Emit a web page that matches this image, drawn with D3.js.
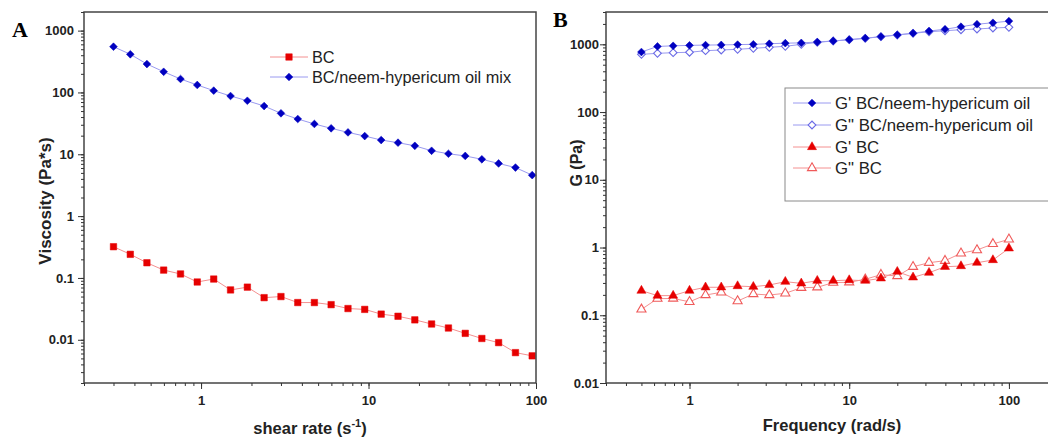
<!DOCTYPE html>
<html>
<head>
<meta charset="utf-8">
<script src="https://cdn.jsdelivr.net/npm/d3@7"></script>
<style>
  body { margin: 0; background: #fff; }
  svg { display: block; font-family: Arial, "Liberation Sans", sans-serif; }
</style>
</head>
<body>
<script>
// panel A: steady shear
var shearRate = [0.3, 0.378, 0.475, 0.598, 0.754, 0.949, 1.19, 1.5, 1.89, 2.38, 3.0, 3.78, 4.75,
    5.98, 7.54, 9.49, 11.9, 15.0, 18.9, 23.8, 30.0, 37.8, 47.5, 59.8, 75.4, 94.9];
var viscMix = [549, 414, 288, 216, 165, 132, 107, 87.6, 73.4, 60.3, 46, 37.2, 30.9, 26.3, 22.6,
    19.7, 17, 15.4, 13.7, 11.4, 10.2, 9.4, 8.3, 7.1, 6.1, 4.6];
var viscBC = [0.32, 0.241, 0.176, 0.134, 0.116, 0.086, 0.096, 0.064, 0.071, 0.048, 0.050, 0.040,
    0.040, 0.037, 0.032, 0.031, 0.026, 0.024, 0.021, 0.018, 0.0155, 0.0127, 0.0105, 0.0090, 0.0062, 0.0055];

// panel B: frequency sweep
var frequency = [0.5, 0.63, 0.79, 1, 1.26, 1.58, 2, 2.51, 3.16, 3.98, 5.01, 6.31, 7.94, 10,
    12.6, 15.8, 20, 25.1, 31.6, 39.8, 50.1, 63.1, 79.4, 100];
var gpMix = [770, 930, 950, 965, 975, 980, 990, 1000, 1020, 1040, 1050, 1080, 1120, 1170, 1230,
    1300, 1380, 1460, 1570, 1670, 1820, 1980, 2080, 2200];
var gppMix = [711, 736, 752, 763, 805, 824, 844, 873, 903, 934, 1000, 1070, 1119, 1170, 1227,
    1295, 1371, 1452, 1534, 1587, 1642, 1683, 1740, 1780];
var gpBC = [0.231, 0.195, 0.195, 0.231, 0.259, 0.259, 0.27, 0.264, 0.28, 0.313, 0.296, 0.324,
    0.324, 0.331, 0.324, 0.351, 0.44, 0.363, 0.425, 0.52, 0.533, 0.597, 0.654, 0.973];
var gppBC = [0.122, 0.176, 0.177, 0.158, 0.199, 0.218, 0.162, 0.206, 0.199, 0.211, 0.255, 0.259,
    0.303, 0.307, 0.34, 0.397, 0.38, 0.52, 0.597, 0.639, 0.822, 0.918, 1.13, 1.32];

var yTicks = [0.01, 0.1, 1, 10, 100, 1000];
var xTicks = [1, 10, 100];

var width = 1048, height = 439;
var svg = d3.select("body").append("svg")
    .attr("width", width)
    .attr("height", height);

var blue = "#0000c0", blueLine = "#9a9af0", blueOpen = "#6a6ae6";
var red = "#e60000", redLine = "#f49090", redOpen = "#f05a5a";

var diamond = d3.symbol().type(d3.symbolSquare).size(30)();
var square = d3.symbol().type(d3.symbolSquare).size(42)();
var triangle = d3.symbol().type(d3.symbolTriangle).size(36)();

function minorValues(lo, hi) {
    var out = [];
    for (var e = Math.floor(Math.log10(lo)); e <= Math.ceil(Math.log10(hi)); e++) {
        for (var m = 1; m < 10; m++) {
            var v = m * Math.pow(10, e);
            if (v >= lo * 0.999 && v <= hi * 1.001) out.push(v);
        }
    }
    return out;
}

function fmt(d) {
    return d < 1 ? String(d) : d3.format("d")(d);
}

function drawAxes(g, x, y, labelGap) {
    var xd = x.domain(), yd = y.domain();
    var h = y.range()[0];
    // minor ticks
    g.append("g").attr("transform", "translate(0," + h + ")")
        .call(d3.axisBottom(x).tickValues(minorValues(xd[0], xd[1])).tickSize(3).tickFormat(""))
        .call(function(a) { a.select(".domain").remove(); });
    g.append("g").attr("transform", "translate(" + x.range()[0] + ",0)")
        .call(d3.axisLeft(y).tickValues(minorValues(yd[0], yd[1])).tickSize(3).tickFormat(""))
        .call(function(a) { a.select(".domain").remove(); });
    // major ticks
    var xa = g.append("g").attr("transform", "translate(0," + h + ")")
        .call(d3.axisBottom(x).tickValues(xTicks).tickSize(6).tickPadding(7).tickFormat(fmt));
    var ya = g.append("g").attr("transform", "translate(" + x.range()[0] + ",0)")
        .call(d3.axisLeft(y).tickValues(yTicks.filter(function(v) { return v >= yd[0] && v <= yd[1]; }))
            .tickSize(6).tickPadding(labelGap).tickFormat(fmt));
    [xa, ya].forEach(function(a) {
        a.select(".domain").remove();
        a.selectAll("text").attr("font-size", 13).attr("font-weight", "bold").attr("fill", "#222")
            .attr("font-family", "Arial, 'Liberation Sans', sans-serif");
    });
    g.selectAll(".tick line").attr("stroke", "#333").attr("stroke-width", 1);
}

function drawSeries(g, x, y, xs, ys, lineColor, marker, fill, stroke, rotate) {
    var line = d3.line().x(function(d, i) { return x(xs[i]); }).y(function(d) { return y(d); });
    g.append("path").datum(ys)
        .attr("d", line)
        .attr("fill", "none")
        .attr("stroke", lineColor)
        .attr("stroke-width", 1);
    g.selectAll(null).data(ys).enter().append("path")
        .attr("d", marker)
        .attr("transform", function(d, i) {
            return "translate(" + x(xs[i]) + "," + y(d) + ")" + (rotate ? " rotate(45)" : "");
        })
        .attr("fill", fill)
        .attr("stroke", stroke)
        .attr("stroke-width", fill === "#fff" ? 1.1 : 0.5);
}

function legendRow(g, x0, yy, lineColor, marker, fill, stroke, rotate, label, fs) {
    g.append("line").attr("x1", x0 - 19).attr("x2", x0 + 19).attr("y1", yy).attr("y2", yy)
        .attr("stroke", lineColor).attr("stroke-width", 1);
    g.append("path").attr("d", marker)
        .attr("transform", "translate(" + x0 + "," + yy + ")" + (rotate ? " rotate(45)" : ""))
        .attr("fill", fill).attr("stroke", stroke).attr("stroke-width", fill === "#fff" ? 1.1 : 0.5);
    g.append("text").attr("x", x0 + 23).attr("y", yy).attr("dy", "0.36em")
        .attr("font-size", fs).attr("fill", "#222").text(label);
}

// ---------- panel A ----------
var xA = d3.scaleLog().domain([0.2, 100]).range([84, 536]);
var yA = d3.scaleLog().domain([0.002, 2000]).range([383, 12]);
var gA = svg.append("g");

drawSeries(gA, xA, yA, shearRate, viscMix, blueLine, diamond, blue, blue, true);
drawSeries(gA, xA, yA, shearRate, viscBC, redLine, square, red, red, false);

gA.append("rect").attr("x", 84).attr("y", 12).attr("width", 536 - 84).attr("height", 383 - 12)
    .attr("fill", "none").attr("stroke", "#444").attr("stroke-width", 1.5);
drawAxes(gA, xA, yA, 4);

legendRow(gA, 289, 57, redLine, square, red, red, false, "BC", 16.3);
legendRow(gA, 289, 77, blueLine, diamond, blue, blue, true, "BC/neem-hypericum oil mix", 16.3);

gA.append("text").attr("x", 12).attr("y", 37)
    .attr("font-family", "'Liberation Serif', 'Times New Roman', serif")
    .attr("font-weight", "bold").attr("font-size", 22).text("A");

gA.append("text").attr("transform", "translate(51,201) rotate(-90)")
    .attr("text-anchor", "middle").attr("font-size", 17).attr("font-weight", "bold").attr("fill", "#222")
    .text("Viscosity (Pa*s)");

var tA = gA.append("text").attr("x", 310).attr("y", 434)
    .attr("text-anchor", "middle").attr("font-size", 16.5).attr("font-weight", "bold").attr("fill", "#222");
tA.append("tspan").text("shear rate (s");
tA.append("tspan").attr("font-size", 11).attr("dy", -7).text("-1");
tA.append("tspan").attr("dy", 7).text(")");

// ---------- panel B ----------
var xB = d3.scaleLog().domain([0.3, 200]).range([606, 1057]);
var yB = d3.scaleLog().domain([0.01, 3000]).range([383, 12]);
var gB = svg.append("g");

drawSeries(gB, xB, yB, frequency, gppMix, blueLine, diamond, "#fff", blueOpen, true);
drawSeries(gB, xB, yB, frequency, gpMix, blueLine, diamond, blue, blue, true);
drawSeries(gB, xB, yB, frequency, gppBC, redLine, triangle, "#fff", redOpen, false);
drawSeries(gB, xB, yB, frequency, gpBC, redLine, triangle, red, red, false);

gB.append("rect").attr("x", 606).attr("y", 12).attr("width", 1057 - 606).attr("height", 383 - 12)
    .attr("fill", "none").attr("stroke", "#444").attr("stroke-width", 1.5);
drawAxes(gB, xB, yB, 1);

gB.append("rect").attr("x", 785).attr("y", 88).attr("width", 300).attr("height", 113)
    .attr("fill", "#fff").attr("stroke", "#8a8a8a").attr("stroke-width", 1);
legendRow(gB, 812, 103, blueLine, diamond, blue, blue, true, "G' BC/neem-hypericum oil", 16.8);
legendRow(gB, 812, 125, blueLine, diamond, "#fff", blueOpen, true, "G\" BC/neem-hypericum oil", 16.8);
legendRow(gB, 812, 147, redLine, triangle, red, red, false, "G' BC", 16.8);
legendRow(gB, 812, 168, redLine, triangle, "#fff", redOpen, false, "G\" BC", 16.8);

gB.append("text").attr("x", 553).attr("y", 27)
    .attr("font-family", "'Liberation Serif', 'Times New Roman', serif")
    .attr("font-weight", "bold").attr("font-size", 22).text("B");

gB.append("text").attr("transform", "translate(582,163) rotate(-90)")
    .attr("text-anchor", "middle").attr("font-size", 16).attr("font-weight", "bold").attr("fill", "#222")
    .text("G (Pa)");

gB.append("text").attr("x", 832).attr("y", 431)
    .attr("text-anchor", "middle").attr("font-size", 16.5).attr("font-weight", "bold").attr("fill", "#222")
    .text("Frequency (rad/s)");
</script>
</body>
</html>
